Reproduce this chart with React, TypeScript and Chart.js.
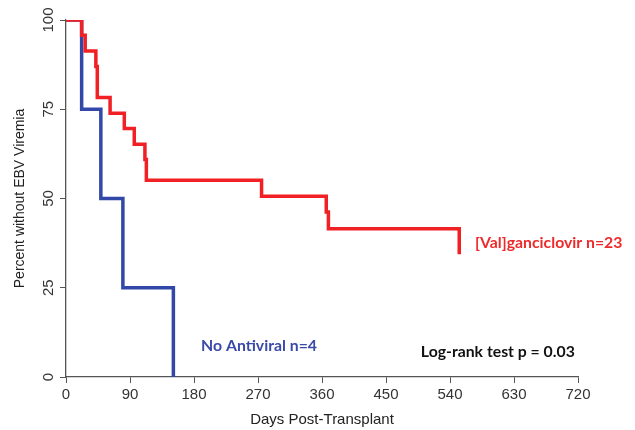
import React, { useEffect, useRef } from "react";
import { Chart, registerables } from "chart.js";

Chart.register(...registerables);

const valDays = [0, 22, 27, 42, 44, 62, 82, 96, 111, 113, 275, 366, 369, 553];
const valPct = [100, 95.7, 91.3, 87.0, 78.3, 73.9, 69.6, 65.2, 60.9, 55.1, 50.6, 46.2, 41.5, 34.4];
const noDays = [0, 22, 49, 80, 151];
const noPct = [100, 75, 50, 25, 0];
const xTicks = [0, 90, 180, 270, 360, 450, 540, 630, 720];
const yTicks = [0, 25, 50, 75, 100];
const annotTexts = ["No Antiviral n=4", "[Val]ganciclovir n=23", "Log-rank test p = 0.03"];
const annotX = [190, 575, 499];
const annotY = [8.6, 37.7, 6.9];
const annotColors = ["#3a4aa8", "#ee2a2a", "#111111"];

const RED = "rgb(240,32,36)";
const BLUE = "rgb(50,72,168)";
const AXIS_FONT = "'Liberation Sans', Arial, sans-serif";

const annotPlugin = {
  id: "annot",
  afterDatasetsDraw(chart: any) {
    const ctx = chart.ctx;
    const xs = chart.scales.x;
    const ys = chart.scales.y;
    ctx.save();
    ctx.font = "bold 15.8px Lato, 'Open Sans', sans-serif";
    ctx.textBaseline = "middle";
    ctx.textAlign = "left";
    annotTexts.forEach((t, i) => {
      ctx.fillStyle = annotColors[i];
      ctx.fillText(t, xs.getPixelForValue(annotX[i]), ys.getPixelForValue(annotY[i]));
    });
    // rotated y tick labels (R style, reading bottom-to-top)
    ctx.font = `15px ${AXIS_FONT}`;
    ctx.fillStyle = "#333";
    ctx.textAlign = "center";
    yTicks.forEach((v) => {
      const y = ys.getPixelForValue(v);
      ctx.save();
      ctx.translate(49, y);
      ctx.rotate(-Math.PI / 2);
      ctx.fillText(String(v), 0, 0);
      ctx.restore();
    });
    ctx.restore();
  },
};

export default function App() {
  const ref = useRef<HTMLCanvasElement>(null);
  useEffect(() => {
    if (!ref.current) return;
    const chart = new Chart(ref.current, {
      type: "line",
      data: {
        datasets: [
          {
            label: "[Val]ganciclovir",
            data: valDays.map((d, i) => ({ x: d, y: valPct[i] })),
            borderColor: RED,
            borderWidth: 3.5,
            pointRadius: 0,
            stepped: true,
            fill: false,
          },
          {
            label: "No Antiviral",
            data: noDays.map((d, i) => ({ x: d, y: noPct[i] })),
            borderColor: BLUE,
            borderWidth: 3.5,
            pointRadius: 0,
            stepped: true,
            fill: false,
          },
        ],
      },
      options: {
        animation: false,
        responsive: false,
        layout: { padding: { top: 20, right: 57, bottom: 0, left: 0 } },
        plugins: { legend: { display: false }, tooltip: { enabled: false } },
        scales: {
          x: {
            type: "linear",
            min: 0,
            max: 720,
            afterBuildTicks: (s: any) => {
              s.ticks = xTicks.map((v) => ({ value: v }));
            },
            afterFit: (s: any) => {
              s.height = 53;
            },
            grid: { drawOnChartArea: false, drawTicks: true, tickLength: 6, color: "#555", lineWidth: 1 },
            border: { display: true, color: "#555", width: 1.3 },
            ticks: {
              color: "#333",
              font: { family: AXIS_FONT, size: 15 },
              padding: 3,
              maxRotation: 0,
              minRotation: 0,
              autoSkip: false,
            },
            title: {
              display: true,
              text: "Days Post-Transplant",
              color: "#222",
              font: { family: AXIS_FONT, size: 15 },
              padding: { top: 0, bottom: 1 },
            },
          },
          y: {
            type: "linear",
            min: 0,
            max: 100,
            afterBuildTicks: (s: any) => {
              s.ticks = yTicks.map((v) => ({ value: v }));
            },
            afterFit: (s: any) => {
              s.width = 66;
            },
            grid: { drawOnChartArea: false, drawTicks: true, tickLength: 6, color: "#555", lineWidth: 1 },
            border: { display: true, color: "#555", width: 1.3 },
            ticks: {
              display: false,
            },
            title: {
              display: true,
              text: "Percent without EBV Viremia",
              color: "#222",
              font: { family: AXIS_FONT, size: 14 },
              padding: { top: 12, bottom: 0 },
            },
          },
        },
      },
      plugins: [annotPlugin],
    } as any);
    return () => chart.destroy();
  }, []);
  return (
    <div style={{ position: "fixed", left: 0, top: 0, width: 635, height: 430, background: "#fff" }}>
      <canvas ref={ref} width={635} height={430} />
    </div>
  );
}
